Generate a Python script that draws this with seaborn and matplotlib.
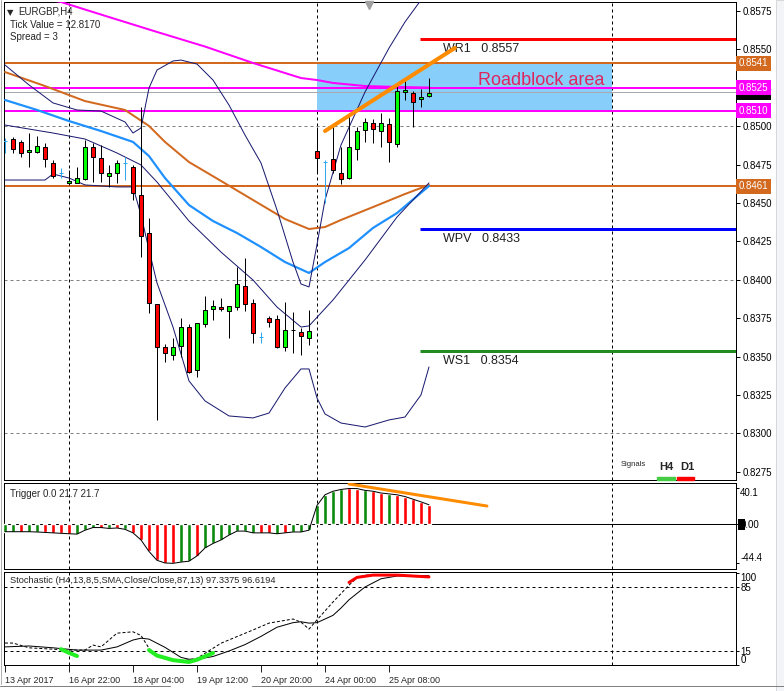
import numpy as np
import matplotlib
matplotlib.use("Agg")
import matplotlib.pyplot as plt
import seaborn as sns
from matplotlib.patches import Rectangle
from matplotlib.lines import Line2D

# ---- candles, EURGBP H4 ----
opens = [0.84904, 0.84917, 0.84898, 0.84833, 0.84833, 0.84865, 0.84761, 0.84696, 0.84631, 0.84631,
         0.84657, 0.84865, 0.84793, 0.84676, 0.84696, 0.84761, 0.84735, 0.84553, 0.84305, 0.83843,
         0.83563, 0.83511, 0.83570, 0.83693, 0.83413, 0.83713, 0.83810, 0.83823, 0.83797, 0.83823,
         0.83960, 0.83849, 0.83628, 0.83752, 0.83745, 0.83563, 0.83671, 0.83661, 0.83622, 0.84839,
         0.84767, 0.84787, 0.84696, 0.84663, 0.84852, 0.84976, 0.85021, 0.84969, 0.85015, 0.84885,
         0.85223, 0.85217, 0.85178, 0.85197]
highs = [0.84924, 0.84930, 0.84911, 0.84956, 0.84937, 0.84891, 0.84780, 0.84728, 0.84715, 0.84735,
         0.84911, 0.84891, 0.84878, 0.84748, 0.84780, 0.84800, 0.84748, 0.85125, 0.84403, 0.83843,
         0.83583, 0.83622, 0.83752, 0.83713, 0.83719, 0.83895, 0.83869, 0.83882, 0.83830, 0.84084,
         0.84142, 0.83876, 0.83661, 0.83765, 0.83771, 0.83856, 0.83791, 0.83687, 0.83804, 0.84995,
         0.84780, 0.85015, 0.84865, 0.85086, 0.84995, 0.85054, 0.85047, 0.85086, 0.85054, 0.85275,
         0.85308, 0.85230, 0.85243, 0.85314]
lows = [0.84826, 0.84826, 0.84800, 0.84735, 0.84826, 0.84735, 0.84663, 0.84663, 0.84618, 0.84631,
        0.84650, 0.84637, 0.84637, 0.84605, 0.84631, 0.84650, 0.84520, 0.84149, 0.83784, 0.83088,
        0.83465, 0.83478, 0.83498, 0.83394, 0.83368, 0.83693, 0.83739, 0.83797, 0.83622, 0.83804,
        0.83797, 0.83589, 0.83589, 0.83693, 0.83557, 0.83537, 0.83524, 0.83511, 0.83576, 0.84702,
        0.84500, 0.84696, 0.84624, 0.84657, 0.84780, 0.84898, 0.84891, 0.84865, 0.84767, 0.84865,
        0.85171, 0.84995, 0.85125, 0.85191]
closes = [0.84904, 0.84852, 0.84826, 0.84846, 0.84871, 0.84787, 0.84676, 0.84696, 0.84644, 0.84663,
          0.84865, 0.84800, 0.84696, 0.84696, 0.84761, 0.84761, 0.84566, 0.84286, 0.83849, 0.83563,
          0.83524, 0.83563, 0.83693, 0.83400, 0.83719, 0.83804, 0.83830, 0.83810, 0.83830, 0.83973,
          0.83843, 0.83654, 0.83628, 0.83726, 0.83563, 0.83674, 0.83674, 0.83635, 0.83667, 0.84793,
          0.84767, 0.84715, 0.84657, 0.84865, 0.84969, 0.85028, 0.84982, 0.85021, 0.84898, 0.85230,
          0.85236, 0.85158, 0.85191, 0.85217]

# ---- moving averages / bands (read at sampled bars) ----
ma_magenta_bar = [2, 7, 13, 19, 25, 31, 37, 39, 41, 45, 49, 53]
ma_magenta = [0.85855, 0.85809, 0.85711, 0.85614, 0.85519, 0.85412, 0.85314, 0.85301, 0.85282, 0.85262, 0.85256, 0.85252]
ma_brown_bar = [0, 5, 10, 15, 18, 20, 23, 27, 31, 35, 38, 40, 42, 46, 50, 53]
ma_brown = [0.85353, 0.85262, 0.85164, 0.85106, 0.85002, 0.84898, 0.84767, 0.84644, 0.84520, 0.84396,
            0.84331, 0.84344, 0.84390, 0.84474, 0.84559, 0.84618]
ma_blue_bar = [0, 4, 8, 12, 16, 18, 20, 23, 26, 29, 32, 35, 38, 40, 43, 46, 49, 53]
ma_blue = [0.85171, 0.85106, 0.85034, 0.84969, 0.84898, 0.84806, 0.84663, 0.84487, 0.84383, 0.84305,
           0.84214, 0.84116, 0.84045, 0.84116, 0.84207, 0.84338, 0.84435, 0.84611]
bb_mid_bar = [0, 6, 10, 14, 17, 19, 23, 27, 31, 34, 37, 38, 41, 45, 49, 53]
bb_mid = [0.85008, 0.84956, 0.84917, 0.84826, 0.84748, 0.84637, 0.84383, 0.84181, 0.83999, 0.83823,
          0.83693, 0.83700, 0.83869, 0.84129, 0.84409, 0.84631]
bb_up_bar = [0, 3, 6, 9, 12, 15, 16, 17, 18, 19, 21, 22, 24, 26, 28, 30, 32, 34, 36, 37, 38, 39, 40, 42,
             45, 48, 50, 52, 53]
bb_up = [0.85399, 0.85269, 0.85152, 0.85106, 0.85099, 0.85028, 0.84956, 0.84989, 0.85249, 0.85366,
         0.85425, 0.85431, 0.85405, 0.85301, 0.85138, 0.84943, 0.84761, 0.84455, 0.84116, 0.83973,
         0.83954, 0.84230, 0.84520, 0.84878, 0.85223, 0.85509, 0.85679, 0.85822, 0.85874]
bb_lo_bar = [0, 5, 6, 8, 10, 14, 16, 17, 18, 19, 21, 23, 25, 28, 31, 33, 35, 37, 38, 39, 40, 42, 45, 48,
             50, 52, 53]
bb_lo = [0.84650, 0.84650, 0.84689, 0.84663, 0.84618, 0.84605, 0.84605, 0.84422, 0.84195, 0.83980,
         0.83693, 0.83342, 0.83212, 0.83114, 0.83101, 0.83133, 0.83296, 0.83420, 0.83420, 0.83231,
         0.83127, 0.83068, 0.83042, 0.83088, 0.83107, 0.83251, 0.83433]

# ---- levels ----
roadblock_top, roadblock_mid, roadblock_bot = 0.8541, 0.8525, 0.8510
support_461 = 0.8461
last_price = 0.8522
pivot_names = ["WR1", "WPV", "WS1"]
pivot_vals = [0.8557, 0.8433, 0.8354]
trend_bar = [40, 56.25]
trend_val = [0.84969, 0.85510]

# ---- trigger oscillator ----
trigger = [-8.7, -8.7, -8.7, -8.7, -9, -9.5, -10, -10.5, -11, -11.4, -7, -4, -4, -5, -4.5, -6, -10, -18,
           -31, -41, -44, -44.4, -43, -42, -36, -27, -22, -18, -12.5, -8, -8, -10, -10, -10, -11, -10,
           -9, -9, -7, 21, 33, 37, 39, 40.1, 40, 38, 37, 35, 34, 33, 31, 28, 25, 21.7]
trigger_col = list("ggrggrrrrgggrgrgrrrrrrggrgggggggrrgrgggggggrrgrrgrrrrr")
trig_trend_bar = [43, 60.25]
trig_trend_val = [45.2, 20.3]

# ---- stochastic ----
stoch_main_bar = [0, 3, 6, 9, 12, 14, 16, 17, 18, 20, 22, 23, 24, 26, 28, 30, 32, 34, 36, 37, 38, 39, 40,
                  41, 42, 43, 45, 47, 49, 51, 53]
stoch_main = [19.5, 20.5, 18.5, 16, 16, 19.5, 27, 29, 28, 19, 8, 6, 6, 9, 15, 22, 31, 41, 46, 47, 45.5,
              46, 50, 54, 62, 71, 85, 94, 97, 97.5, 97.3]
stoch_sig_bar = [0, 1, 3, 8, 10, 11, 12, 14, 16, 17, 18, 19, 22, 24, 27, 31, 33, 36, 37, 38, 39, 41, 43,
                 44, 45, 49, 53]
stoch_sig = [23.7, 23.7, 18.5, 16, 16, 21.5, 19.5, 34.5, 36, 32, 18, 9, 4, 7, 23.5, 38, 45.5, 50, 46.5,
             39, 49, 68.6, 87, 95, 98, 98, 96.6]
oversold1_bar, oversold1 = [7, 8, 9], [17, 13, 9.5]
oversold2_bar, oversold2 = [18, 19, 21, 23, 24, 26], [16, 10, 5, 3, 5.5, 12.8]
overbought_bar, overbought = [43, 44, 46, 49, 51, 53], [90, 95.5, 98, 98, 97, 96]

time_labels = ["13 Apr 2017", "16 Apr 22:00", "18 Apr 04:00", "19 Apr 12:00",
               "20 Apr 20:00", "24 Apr 00:00", "25 Apr 08:00"]
time_bars = [0, 8, 16, 24, 32, 40, 48]

# ---------------------------------------------------------------
W, H = 784, 691
PX = 0.72  # one pixel in points


def box(x0, y0, x1, y1):
    return [x0 / W, 1 - y1 / H, (x1 - x0) / W, (y1 - y0) / H]


sns.set_style("white")
plt.rcParams["font.family"] = ["Liberation Sans", "DejaVu Sans"]
plt.rcParams["axes.linewidth"] = PX

fig = plt.figure(figsize=(W / 100, H / 100), dpi=100)
fig.add_artist(Rectangle((776 / W, 0), 8 / W, 1, transform=fig.transFigure,
                         facecolor="#f3f4f8", edgecolor="#d8d8d8", lw=PX))
ax = fig.add_axes(box(4, 2, 736, 480))
tg = fig.add_axes(box(4, 483, 736, 569))
st = fig.add_axes(box(4, 572, 736, 665))

xlim = (-0.125, 91.375)
vgrid = [8, 39, 75.875]
for a in (ax, tg, st):
    a.set_xlim(*xlim)
    a.set_xticks([])
    for v in vgrid:
        a.axvline(v, color="black", lw=PX, ls=(0, (3, 3)), zorder=1)
    for s in a.spines.values():
        s.set_color("black")
    a.yaxis.tick_right()
    a.tick_params(axis="y", direction="out", length=3, width=PX, labelsize=7, pad=2, colors="black")
for a in (tg, st):
    a.tick_params(axis="y", length=2, pad=1)

# ---- main price panel ----
ax.set_ylim(0.82697, 0.85809)
ax.set_yticks(np.arange(0.8275, 0.85751, 0.0025))
ax.set_yticklabels([f"{v:.4f}" for v in np.arange(0.8275, 0.85751, 0.0025)])
for g in (0.85, 0.84, 0.83):
    ax.axhline(g, color="#808080", lw=PX, ls=(0, (3, 3)), zorder=1)

ax.add_patch(Rectangle((39, roadblock_bot), 75.875 - 39, roadblock_top - roadblock_bot,
                       facecolor="#87cefa", edgecolor="none", zorder=1.5))
ax.text(74.9, 0.85295, "Roadblock area", color="#e0245e", fontsize=13, ha="right", va="center", zorder=6)

ax.axhline(roadblock_top, color="#d2691e", lw=2 * PX, zorder=2)
ax.axhline(support_461, color="#d2691e", lw=2 * PX, zorder=2)
ax.axhline(roadblock_mid, color="#ff00ff", lw=2 * PX, zorder=2)
ax.axhline(roadblock_bot, color="#ff00ff", lw=2 * PX, zorder=2)
ax.axhline(last_price, color="#a8a8a8", lw=PX, zorder=2)

piv_colors = ["#ff0000", "#0000ff", "#228b22"]
for name, val, col in zip(pivot_names, pivot_vals, piv_colors):
    ax.hlines(val, 51.875, xlim[1], color=col, lw=3 * PX, zorder=3)
    ax.annotate(f"{name}   {val:.4f}", xy=(54.75, val), xytext=(0, -3), textcoords="offset points",
                fontsize=9, ha="left", va="top", color="#202020")

sns.lineplot(x=ma_magenta_bar, y=ma_magenta, ax=ax, color="#ff00ff", lw=2 * PX, estimator=None, zorder=3)
sns.lineplot(x=ma_brown_bar, y=ma_brown, ax=ax, color="#d2691e", lw=2 * PX, estimator=None, zorder=3)
sns.lineplot(x=ma_blue_bar, y=ma_blue, ax=ax, color="#1e90ff", lw=2.2 * PX, estimator=None, zorder=3)
for bx, by in ((bb_mid_bar, bb_mid), (bb_up_bar, bb_up), (bb_lo_bar, bb_lo)):
    sns.lineplot(x=bx, y=by, ax=ax, color="#191970", lw=PX, estimator=None, zorder=3)

o, h, l, c = map(np.array, (opens, highs, lows, closes))
bars = np.arange(len(o))
up, dn, dj = c > o, c < o, c == o
nd = ~dj
ax.vlines(bars[nd], l[nd], h[nd], color="black", lw=PX, zorder=4)
ax.bar(bars[up], (c - o)[up], bottom=o[up], width=0.62, color="#00ff00", edgecolor="black", lw=PX, zorder=5)
ax.bar(bars[dn], (o - c)[dn], bottom=c[dn], width=0.62, color="#ff0000", edgecolor="black", lw=PX, zorder=5)
ax.vlines(bars[dj], l[dj], h[dj], color="#30a8f0", lw=PX, zorder=4)
ax.hlines(c[dj], bars[dj] - 0.3, bars[dj] + 0.3, color="#30a8f0", lw=PX, zorder=4)

sns.lineplot(x=trend_bar, y=trend_val, ax=ax, color="#ff8c00", lw=4 * PX, estimator=None, zorder=6)
ax.set_xlabel("")
ax.set_ylabel("")
ax.set_xlim(*xlim)
ax.set_ylim(0.82697, 0.85809)
ax.plot([45.5], [0.8579], marker="v", color="#a0a0a0", ms=6, clip_on=False, zorder=7)

# price boxes on the right scale
ytr = ax.get_yaxis_transform()
for val, fc in ((last_price, "black"), (roadblock_top, "#d2691e"), (support_461, "#d2691e"),
                (roadblock_mid, "#ff00ff"), (roadblock_bot, "#ff00ff")):
    ax.text(1.004, val, f"{val:.4f}", transform=ytr, fontsize=7, color="white", ha="left", va="center",
            clip_on=False, zorder=10,
            bbox=dict(boxstyle="square,pad=0.25", facecolor=fc, edgecolor="none"))

ax.text(0.004, 0.988, "\u25bc", transform=ax.transAxes, fontsize=6, va="top", family=["DejaVu Sans"])
ax.text(0.02, 0.99, "EURGBP,H4", transform=ax.transAxes, fontsize=7, va="top")
ax.text(0.008, 0.962, "Tick Value = 12.8170", transform=ax.transAxes, fontsize=7, va="top")
ax.text(0.008, 0.937, "Spread = 3", transform=ax.transAxes, fontsize=7, va="top")

# signals widget
fig.text(621 / W, 1 - 465 / H, "Signals", fontsize=5.5, va="center")
fig.text(659 / W, 1 - 467 / H, "H4", fontsize=8, fontweight="bold", va="center")
fig.text(680 / W, 1 - 467 / H, "D1", fontsize=8, fontweight="bold", va="center")
fig.add_artist(Rectangle((657 / W, 1 - 480 / H), 18 / W, 3 / H, transform=fig.transFigure, color="#44cc44"))
fig.add_artist(Rectangle((677 / W, 1 - 480 / H), 17 / W, 3 / H, transform=fig.transFigure, color="#ff0000"))

# ---- trigger panel ----
tg.set_ylim(-50.8, 46.3)
tg.axhline(0, color="black", lw=PX, zorder=2)
tcol = ["#0a8a0a" if k == "g" else "#ff0000" for k in trigger_col]
tg.bar(np.arange(len(trigger)), trigger, width=0.38, color=tcol, zorder=3)
sns.lineplot(x=np.arange(len(trigger)), y=trigger, ax=tg, color="black", lw=PX, estimator=None, zorder=4)
sns.lineplot(x=trig_trend_bar, y=trig_trend_val, ax=tg, color="#ff8c00", lw=3 * PX, estimator=None, zorder=5)
tg.set_xlim(*xlim)
tg.set_ylim(-50.8, 46.3)
tg.set_xlabel("")
tg.set_ylabel("")
tg.set_yticks([40.1, 0, -44.4])
tg.set_yticklabels(["40.1", "0.00", "-44.4"])
lab = tg.get_yticklabels()
lab[0].set_va("top")
lab[2].set_va("bottom")
# small black value marker behind the zero label
fig.add_artist(Rectangle((738 / W, 1 - 530 / H), 7 / W, 11 / H, transform=fig.transFigure,
                         facecolor="black", edgecolor="none", zorder=-1))
tg.text(0.008, 0.93, "Trigger 0.0 21.7 21.7", transform=tg.transAxes, fontsize=7, va="top")

# ---- stochastic panel ----
st.set_ylim(-0.3, 101.4)
for lv in (85, 15):
    st.axhline(lv, color="black", lw=PX, ls=(0, (3, 3)), zorder=1)
sns.lineplot(x=stoch_main_bar, y=stoch_main, ax=st, color="black", lw=PX, estimator=None, zorder=3)
sns.lineplot(x=stoch_sig_bar, y=stoch_sig, ax=st, color="black", lw=PX, estimator=None, zorder=3,
             linestyle=(0, (3, 2)))
for bx, by in ((oversold1_bar, oversold1), (oversold2_bar, oversold2)):
    sns.lineplot(x=bx, y=by, ax=st, color="#22ee22", lw=4 * PX, estimator=None, zorder=4)
sns.lineplot(x=overbought_bar, y=overbought, ax=st, color="#ff0000", lw=3 * PX, estimator=None, zorder=4)
st.set_xlim(*xlim)
st.set_ylim(-0.3, 101.4)
st.set_ylabel("")
st.set_yticks([100, 85, 15, 0])
st.set_yticklabels(["100", "85", "15", "0"])
lab = st.get_yticklabels()
lab[0].set_va("top")
lab[3].set_va("bottom")
st.text(0.008, 0.96, "Stochastic (H4,13,8,5,SMA,Close/Close,87,13) 97.3375 96.6194",
        transform=st.transAxes, fontsize=6.7, va="top")
st.set_xticks(time_bars)
st.set_xticklabels(time_labels)
st.tick_params(axis="x", direction="out", length=5, width=PX, labelsize=6.5, pad=3, bottom=True)
for t in st.get_xticklabels():
    t.set_ha("left")
st.set_xlabel("")

# window chrome
fig.add_artist(Line2D([1 / W, 1 / W], [1 - 684 / H, 1], transform=fig.transFigure, color="#b0b0b0", lw=PX))
fig.add_artist(Line2D([0, 170 / W], [1 - 686 / H] * 2, transform=fig.transFigure, color="#808080", lw=PX))
fig.add_artist(Line2D([252 / W, 1], [1 - 686 / H] * 2, transform=fig.transFigure, color="#808080", lw=PX))

fig.savefig("out.png", dpi=100)
